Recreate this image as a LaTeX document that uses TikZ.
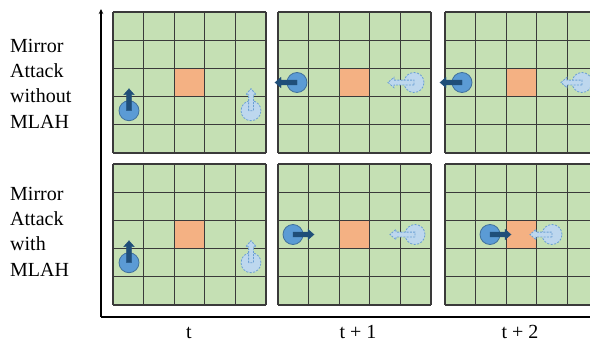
\documentclass[tikz,border=0pt]{standalone}
\usepackage{fontspec}
\setmainfont{Liberation Serif}
\usetikzlibrary{arrows.meta}
\definecolor{cellgreen}{HTML}{C5E0B4}
\definecolor{cellorange}{HTML}{F4B183}
\definecolor{agentblue}{HTML}{5B9BD5}
\definecolor{agentedge}{HTML}{41719C}
\definecolor{arrowdark}{HTML}{1F4E79}
\definecolor{ghostfill}{HTML}{BDD7EE}
\definecolor{ghostedge}{HTML}{6A9FD4}
\definecolor{gridline}{HTML}{3A3A3A}
\tikzset{
 agent/.style={circle, minimum size=20pt, inner sep=0pt, fill=agentblue, draw=agentedge, line width=0.8pt},
 ghost/.style={circle, minimum size=20pt, inner sep=0pt, fill=ghostfill, draw=ghostedge, dash pattern=on 2pt off 1.5pt, line width=0.8pt},
 darkarrow/.style={fill=arrowdark, draw=arrowdark, line width=0.4pt},
 ghostarrow/.style={fill=ghostfill, draw=ghostedge, dash pattern=on 2pt off 1.2pt, line width=0.8pt},
 rowlabel/.style={font=\fontsize{20}{24}\selectfont, anchor=base west, inner sep=0pt},
 timelabel/.style={font=\fontsize{20}{24}\selectfont, anchor=base, inner sep=0pt},
 gridrule/.style={draw=gridline, line width=1.1pt},
}
\newcommand{\blockarrow}[5]{%
 \path[#1, shift={(#2,#3)}, rotate=#4] (0,-2.4) -- (#5-6,-2.4) -- (#5-6,-5.2) -- (#5,0) -- (#5-6,5.2) -- (#5-6,2.4) -- (0,2.4) -- cycle;}
\newcommand{\gridpanel}[2]{%
 \fill[cellgreen] (#1,#2) rectangle ++(153,141);
 \fill[cellorange] (#1+61.2,#2+56.4) rectangle ++(30.6,28.2);
 \foreach \i in {0,...,5} {
   \draw[gridrule] (#1+\i*30.6,#2) -- ++(0,141);
   \draw[gridrule] (#1,#2+\i*28.2) -- ++(153,0);
 }}
\begin{document}
\begin{tikzpicture}[x=1pt,y=-1pt]
\useasboundingbox (0,0) rectangle (590,343);
\clip (0,0) rectangle (590,343);
% grids
\gridpanel{113}{12}
\gridpanel{278}{12}
\gridpanel{445}{12}
\gridpanel{113}{164}
\gridpanel{278}{164}
\gridpanel{445}{164}
% axes
\coordinate (origin) at (101,317);
\coordinate (ytip) at (101,9);
\coordinate (xend) at (592,317);
\draw[line width=1.3pt, -{Stealth[length=5pt,width=4.5pt]}] (origin) -- (ytip);
\draw[line width=1.6pt] (origin) -- (xend);
% top row: without MLAH
\node[agent] (a11) at (129,110.7) {};
\blockarrow{darkarrow}{129}{110.7}{90}{22}
\node[ghost] (g11) at (251,110.7) {};
\blockarrow{ghostarrow}{251}{110.7}{90}{22}
\node[agent] (a12) at (297,82.5) {};
\blockarrow{darkarrow}{297}{82.5}{180}{22}
\node[ghost] (g12) at (414,82.5) {};
\blockarrow{ghostarrow}{414}{82.5}{180}{26}
\node[agent] (a13) at (462,82.5) {};
\blockarrow{darkarrow}{462}{82.5}{180}{22}
\node[ghost] (g13) at (582,82.5) {};
\blockarrow{ghostarrow}{582}{82.5}{180}{21}
% bottom row: with MLAH
\node[agent] (a21) at (129,262.7) {};
\blockarrow{darkarrow}{129}{262.7}{90}{22}
\node[ghost] (g21) at (251,262.7) {};
\blockarrow{ghostarrow}{251}{262.7}{90}{22}
\node[agent] (a22) at (293,234.5) {};
\blockarrow{darkarrow}{293}{234.5}{0}{21}
\node[ghost] (g22) at (415,234.5) {};
\blockarrow{ghostarrow}{415}{234.5}{180}{25}
\node[agent] (a23) at (490,234.5) {};
\blockarrow{darkarrow}{490}{234.5}{0}{21}
\node[ghost] (g23) at (552,234.5) {};
\blockarrow{ghostarrow}{552}{234.5}{180}{22}
% row labels
\node[rowlabel] (l11) at (10,52) {Mirror};
\node[rowlabel] (l12) at (10,77.3) {Attack};
\node[rowlabel] (l13) at (10,102.6) {without};
\node[rowlabel] (l14) at (10,128) {MLAH};
\node[rowlabel] (l21) at (10,200) {Mirror};
\node[rowlabel] (l22) at (10,225.3) {Attack};
\node[rowlabel] (l23) at (10,250.6) {with};
\node[rowlabel] (l24) at (10,276) {MLAH};
% time labels
\node[timelabel] (t0) at (189,338) {t};
\node[timelabel] (t1) at (358,338) {t + 1};
\node[timelabel] (t2) at (520,338) {t + 2};
\end{tikzpicture}
\end{document}
